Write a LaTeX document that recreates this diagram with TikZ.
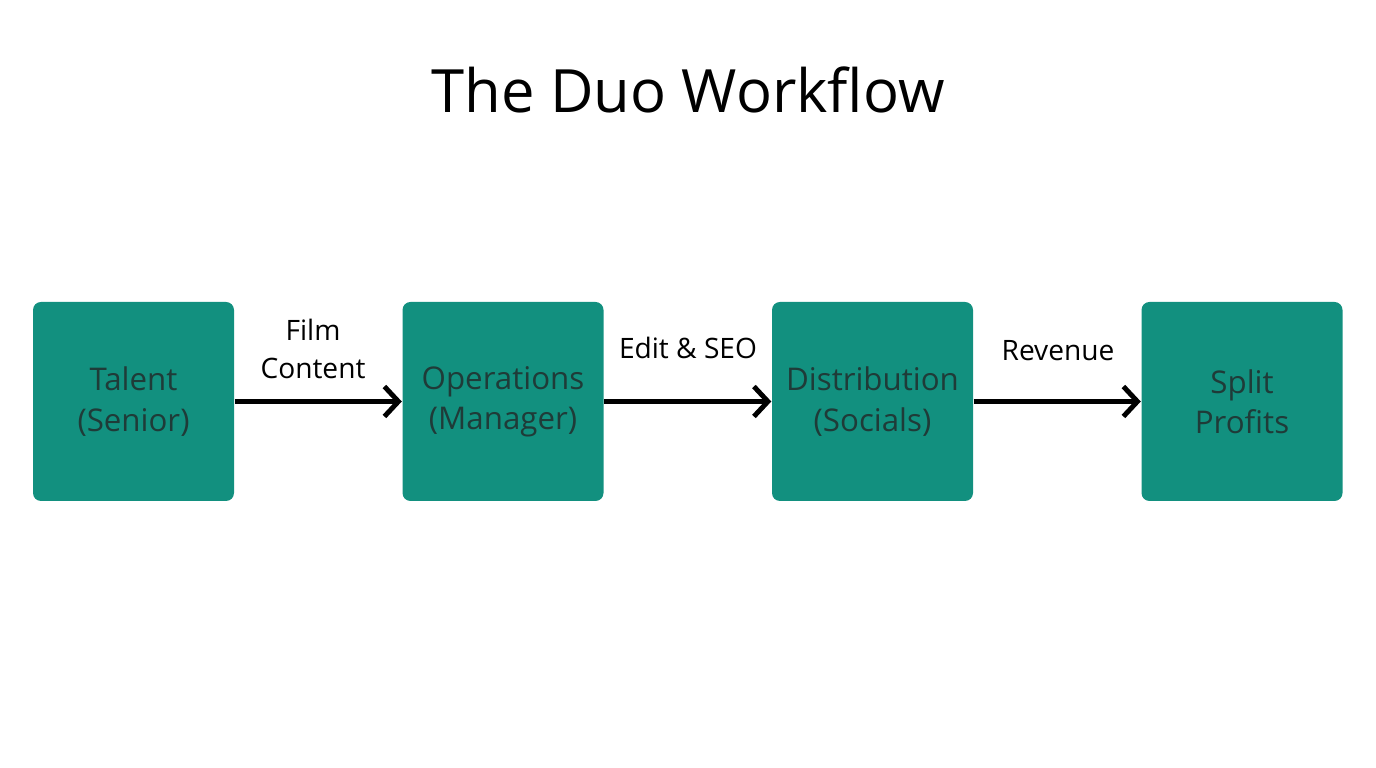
\documentclass[tikz,border=0pt]{standalone}
\usepackage{fontspec}
\setmainfont{Open Sans}
\usetikzlibrary{arrows.meta}
\definecolor{tealbox}{HTML}{12907F}
\definecolor{boxtext}{HTML}{1F3B38}
\begin{document}
\begin{tikzpicture}[
    box/.style={rectangle, rounded corners=0.08cm, fill=tealbox, minimum width=2.01cm, minimum height=1.99cm, inner sep=0pt, text width=1.9cm, align=center, text=boxtext, font=\fontsize{8.9}{11.5}\selectfont},
    arrow/.style={-{Straight Barb[length=0.14cm, width=0.3cm, line width=1.4pt]}, line width=1.4pt, black},
    label/.style={align=center, font=\fontsize{8}{10.8}\selectfont}
]
\useasboundingbox (0,0) rectangle (13.76,7.68);

% Title
\node[font=\fontsize{17}{20}\selectfont] (title) at (6.88, 6.78) {The Duo Workflow};

% Workflow boxes
\node[box] (talent) at (1.335, 3.665) {Talent\\(Senior)};
\node[box] (operations) at (5.03, 3.665) {Operations\\(Manager)};
\node[box] (distribution) at (8.725, 3.665) {Distribution\\(Socials)};
\node[box] (split) at (12.42, 3.665) {Split\\Profits};

% Connections
\draw[arrow] (talent) -- (operations);
\draw[arrow] (operations) -- (distribution);
\draw[arrow] (distribution) -- (split);

% Arrow labels
\node[label] (film) at (3.13, 4.19) {Film\\Content};
\node[label] (edit) at (6.88, 4.2) {Edit \& SEO};
\node[label] (revenue) at (10.58, 4.17) {Revenue};

\end{tikzpicture}
\end{document}
